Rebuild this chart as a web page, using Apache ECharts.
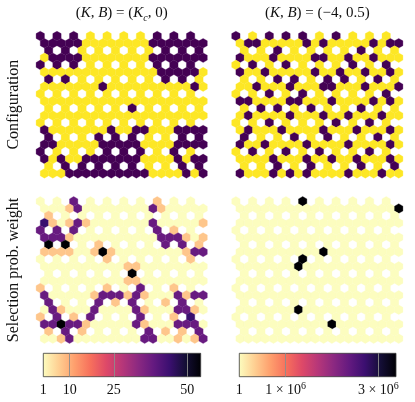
<!DOCTYPE html>
<html>
<head>
<meta charset="utf-8">
<script src="https://cdn.jsdelivr.net/npm/echarts@6/dist/echarts.min.js"></script>
<style>
html, body { margin: 0; padding: 0; background: #fff; }
#chart { width: 415px; height: 402px; }
</style>
</head>
<body>
<div id="chart"></div>
<script>
// kagome lattice, 20 rows x 20 sites; odd rows shifted half a site to the right
// '-' = empty plaquette centre
// spins: 1 = up (yellow), 0 = down (purple)
var configKc = [
  '0-0-0-1-1-1-1-0-0-0-',
  '00000111111110000000',
  '-0-0-1-1-1-1-1-0-0-0',
  '10000111111110000000',
  '0-0-0-1-1-1-1-0-0-0-',
  '11111111111111000001',
  '-0-0-1-1-1-1-1-0-0-1',
  '11111110111111111101',
  '1-1-1-1-1-1-1-1-1-1-',
  '11111111111111111111',
  '-1-1-1-1-1-0-1-1-1-1',
  '11111111111111111111',
  '1-1-1-1-1-1-1-1-1-1-',
  '01111111011001110000',
  '-0-1-1-0-0-0-1-1-0-0',
  '00111110000011110000',
  '0-1-1-1-0-0-0-1-0-1-',
  '01011000000011110100',
  '-1-0-0-0-0-0-1-1-0-0',
  '11100000000001111010'
];
var configAf = [
  '0-1-0-0-0-1-0-1-1-1-',
  '10011111010111110100',
  '-1-1-0-1-1-1-1-0-1-1',
  '01110111100110110111',
  '1-0-1-0-1-1-1-0-1-0-',
  '01101111101101101101',
  '-1-1-0-0-1-0-0-1-0-1',
  '11011101110011101110',
  '1-1-0-1-0-1-1-1-1-0-',
  '00111100111011110101',
  '-1-0-0-1-0-1-1-0-1-1',
  '10111101110110111011',
  '1-1-0-1-1-1-0-1-0-1-',
  '10111011110111011101',
  '-0-1-1-0-1-0-1-1-0-1',
  '01101111011110111101',
  '1-0-1-0-1-0-1-1-0-1-',
  '11110111011011011101',
  '-1-1-0-1-0-1-1-0-1-0',
  '01110101011110111011'
];
// selection weights, coded
var weightKc = [
  '.-.-p-.-.-.-.-o-.-.-',
  '...op........po.....',
  '-o-.-.-.-.-.-.-.-.-.',
  'do.opo.......p.....o',
  'p-p-p-.-.-.-.-p-o-.-',
  'pppo..........pppo.o',
  '-k-k-.-o-.-.-.-p-p-o',
  'oooo..oko........opp',
  '.-.-.-.-o-.-.-.-.-o-',
  '..........oo........',
  '-.-.-.-.-.-k-.-.-.-.',
  '..........oo........',
  'o-.-.-.-o-.-p-.-o-.-',
  'p.....opppopo...popp',
  '-p-.-.-p-o-p-.-o-p-.',
  '.po...p....po...ppo.',
  'o-p-o-p-.-.-p-.-o-d-',
  'ppkppo.....po...ppp.',
  '-o-p-o-.-.-.-p-o-o-p',
  '..op........pp..o.op'
];
var weightAf = [
  '.-.-.-.-k-.-.-.-.-.-',
  '...................k',
  '-.-.-.-.-.-.-.-.-.-.',
  '....................',
  '.-.-.-.-.-.-.-.-.-.-',
  '....................',
  '-.-.-.-.-.-.-.-.-.-.',
  '..........k.........',
  '.-.-.-.-k-.-.-.-.-.-',
  '.......k............',
  '-.-.-.-.-.-.-.-.-.-.',
  '....................',
  '.-.-.-.-.-.-.-.-.-.-',
  '....................',
  '-.-.-.-.-.-.-.-.-.-.',
  '.......k............',
  '.-.-.-.-.-.-.-.-.-.-',
  '...........k........',
  '-.-.-.-.-.-.-.-.-.-.',
  '....................'
];
var weightCodesKc = { '.': 1, 'o': 7.4, 'p': 38, 'd': 44, 'k': 54.6 };
var weightCodesAf = { '.': 1, 'k': 3.38e6 };

var rangeKc = [1, 54.6];
var rangeAf = [1, 3.38e6];
var ticksKc = [1, 10, 25, 50];
var ticksAf = [1, 1e6, 3e6];

var panelTitles = [
  '({i|K}, {i|B}) = ({i|K}{c|c}, 0)',
  '({i|K}, {i|B}) = (\u22124, 0.5)'
];
var rowLabels = ['Configuration', 'Selection prob. weight'];

var spinColors = ['#440154', '#fde725'];
var magmaR = ['#fcfdbf', '#fecf92', '#fe9f6d', '#f7705c', '#de4968', '#b73779',
              '#8c2981', '#641a80', '#3b0f70', '#140e36', '#000004'];
var serif = '"Liberation Serif", "DejaVu Serif", serif';

function buildCells(rows, codes) {
  var out = [];
  rows.forEach(function (row, r) {
    for (var j = 0; j < row.length; j++) {
      var ch = row.charAt(j);
      if (ch === '-') continue;
      out.push([j + (r % 2) * 0.5, r, codes ? codes[ch] : Number(ch)]);
    }
  });
  return out;
}

function hexItem(params, api) {
  var c = api.coord([api.value(0), api.value(1)]);
  var s = api.size([1, 1]);
  var hw = s[0] / 2, R = s[0] / Math.sqrt(3);
  var col = api.visual('color');
  return {
    type: 'polygon',
    shape: { points: [
      [c[0], c[1] - R], [c[0] + hw, c[1] - R / 2], [c[0] + hw, c[1] + R / 2],
      [c[0], c[1] + R], [c[0] - hw, c[1] + R / 2], [c[0] - hw, c[1] - R / 2]
    ] },
    style: { fill: col, stroke: col, lineWidth: 0.3 }
  };
}

function barItem(params, api) {
  var p0 = api.coord([api.value(0), 1]);
  var p1 = api.coord([api.value(1), 0]);
  var stops = magmaR.map(function (c, i) { return { offset: i / (magmaR.length - 1), color: c }; });
  return {
    type: 'rect',
    shape: { x: p0[0], y: p0[1], width: p1[0] - p0[0], height: p1[1] - p0[1] },
    style: { fill: new echarts.graphic.LinearGradient(0, 0, 1, 0, stops), stroke: '#3a3a3a', lineWidth: 0.8 }
  };
}

var panelW = 171.2, panelH = 147;
var grids = [
  { left: 36.1, top: 31.2, width: panelW, height: panelH },
  { left: 231.7, top: 31.2, width: panelW, height: panelH },
  { left: 36.1, top: 196.5, width: panelW, height: panelH },
  { left: 231.7, top: 196.5, width: panelW, height: panelH },
  { left: 43.3, top: 353.3, width: 157.4, height: 23.4 },
  { left: 239.3, top: 353.3, width: 156.7, height: 23.4 }
];

var xAxes = [], yAxes = [];
for (var i = 0; i < 4; i++) {
  xAxes.push({ gridIndex: i, type: 'value', min: -0.5, max: 20, show: false });
  yAxes.push({ gridIndex: i, type: 'value', min: -2 / 3, max: 19 + 2 / 3, inverse: true, show: false });
}
function barAxis(idx, range, ticks, fmt) {
  return {
    gridIndex: idx, type: 'value', min: range[0], max: range[1], z: 10,
    axisLine: { show: false }, splitLine: { show: false },
    axisTick: { show: true, inside: true, length: 23.4, customValues: ticks.slice(1),
                lineStyle: { color: '#8c8c8c', width: 0.9 } },
    axisLabel: { customValues: ticks, margin: 5, color: '#111', fontFamily: serif, fontSize: 14,
                 formatter: fmt,
                 rich: { n: { fontFamily: serif, fontSize: 14, lineHeight: 18, color: '#111' },
                         s: { fontFamily: serif, fontSize: 10, lineHeight: 10, verticalAlign: 'top', color: '#111' } } }
  };
}
xAxes.push(barAxis(4, rangeKc, ticksKc, function (v) { return '{n|' + v + '}'; }));
xAxes.push(barAxis(5, rangeAf, ticksAf, function (v) {
  return v === 1 ? '{n|1}' : '{n|' + (v / 1e6) + ' \u00d7 10}{s|6}';
}));
yAxes.push({ gridIndex: 4, type: 'value', min: 0, max: 1, show: false });
yAxes.push({ gridIndex: 5, type: 'value', min: 0, max: 1, show: false });

var titleRich = {
  i: { fontFamily: serif, fontSize: 15, fontStyle: 'italic', lineHeight: 20, fill: '#111' },
  c: { fontFamily: serif, fontSize: 10, fontStyle: 'italic', lineHeight: 11, verticalAlign: 'bottom', fill: '#111' }
};

var option = {
  animation: false,
  backgroundColor: '#fff',
  grid: grids,
  xAxis: xAxes,
  yAxis: yAxes,
  visualMap: [
    { type: 'piecewise', show: false, seriesIndex: [0, 1], dimension: 2,
      pieces: [{ value: 0, color: spinColors[0] }, { value: 1, color: spinColors[1] }] },
    { type: 'continuous', show: false, seriesIndex: 2, dimension: 2,
      min: rangeKc[0], max: rangeKc[1], inRange: { color: magmaR } },
    { type: 'continuous', show: false, seriesIndex: 3, dimension: 2,
      min: rangeAf[0], max: rangeAf[1], inRange: { color: magmaR } }
  ],
  series: [
    { type: 'custom', xAxisIndex: 0, yAxisIndex: 0, data: buildCells(configKc), renderItem: hexItem, silent: true },
    { type: 'custom', xAxisIndex: 1, yAxisIndex: 1, data: buildCells(configAf), renderItem: hexItem, silent: true },
    { type: 'custom', xAxisIndex: 2, yAxisIndex: 2, data: buildCells(weightKc, weightCodesKc), renderItem: hexItem, silent: true },
    { type: 'custom', xAxisIndex: 3, yAxisIndex: 3, data: buildCells(weightAf, weightCodesAf), renderItem: hexItem, silent: true },
    { type: 'custom', xAxisIndex: 4, yAxisIndex: 4, data: [[rangeKc[0], rangeKc[1]]], renderItem: barItem, z: 1, silent: true },
    { type: 'custom', xAxisIndex: 5, yAxisIndex: 5, data: [[rangeAf[0], rangeAf[1]]], renderItem: barItem, z: 1, silent: true }
  ],
  graphic: [
    { type: 'text', x: 121.7, y: 13, style: { text: panelTitles[0], rich: titleRich, align: 'center', verticalAlign: 'middle',
      fontFamily: serif, fontSize: 15, lineHeight: 20, fill: '#111' } },
    { type: 'text', x: 317.3, y: 13, style: { text: panelTitles[1], rich: titleRich, align: 'center', verticalAlign: 'middle',
      fontFamily: serif, fontSize: 15, lineHeight: 20, fill: '#111' } },
    { type: 'text', x: 14, y: 104.7, rotation: Math.PI / 2, style: { text: rowLabels[0], align: 'center', verticalAlign: 'middle',
      fontFamily: serif, fontSize: 16, fill: '#111' } },
    { type: 'text', x: 14, y: 270, rotation: Math.PI / 2, style: { text: rowLabels[1], align: 'center', verticalAlign: 'middle',
      fontFamily: serif, fontSize: 16, fill: '#111' } }
  ]
};

var chart = echarts.init(document.getElementById('chart'));
chart.setOption(option);
</script>
</body>
</html>
